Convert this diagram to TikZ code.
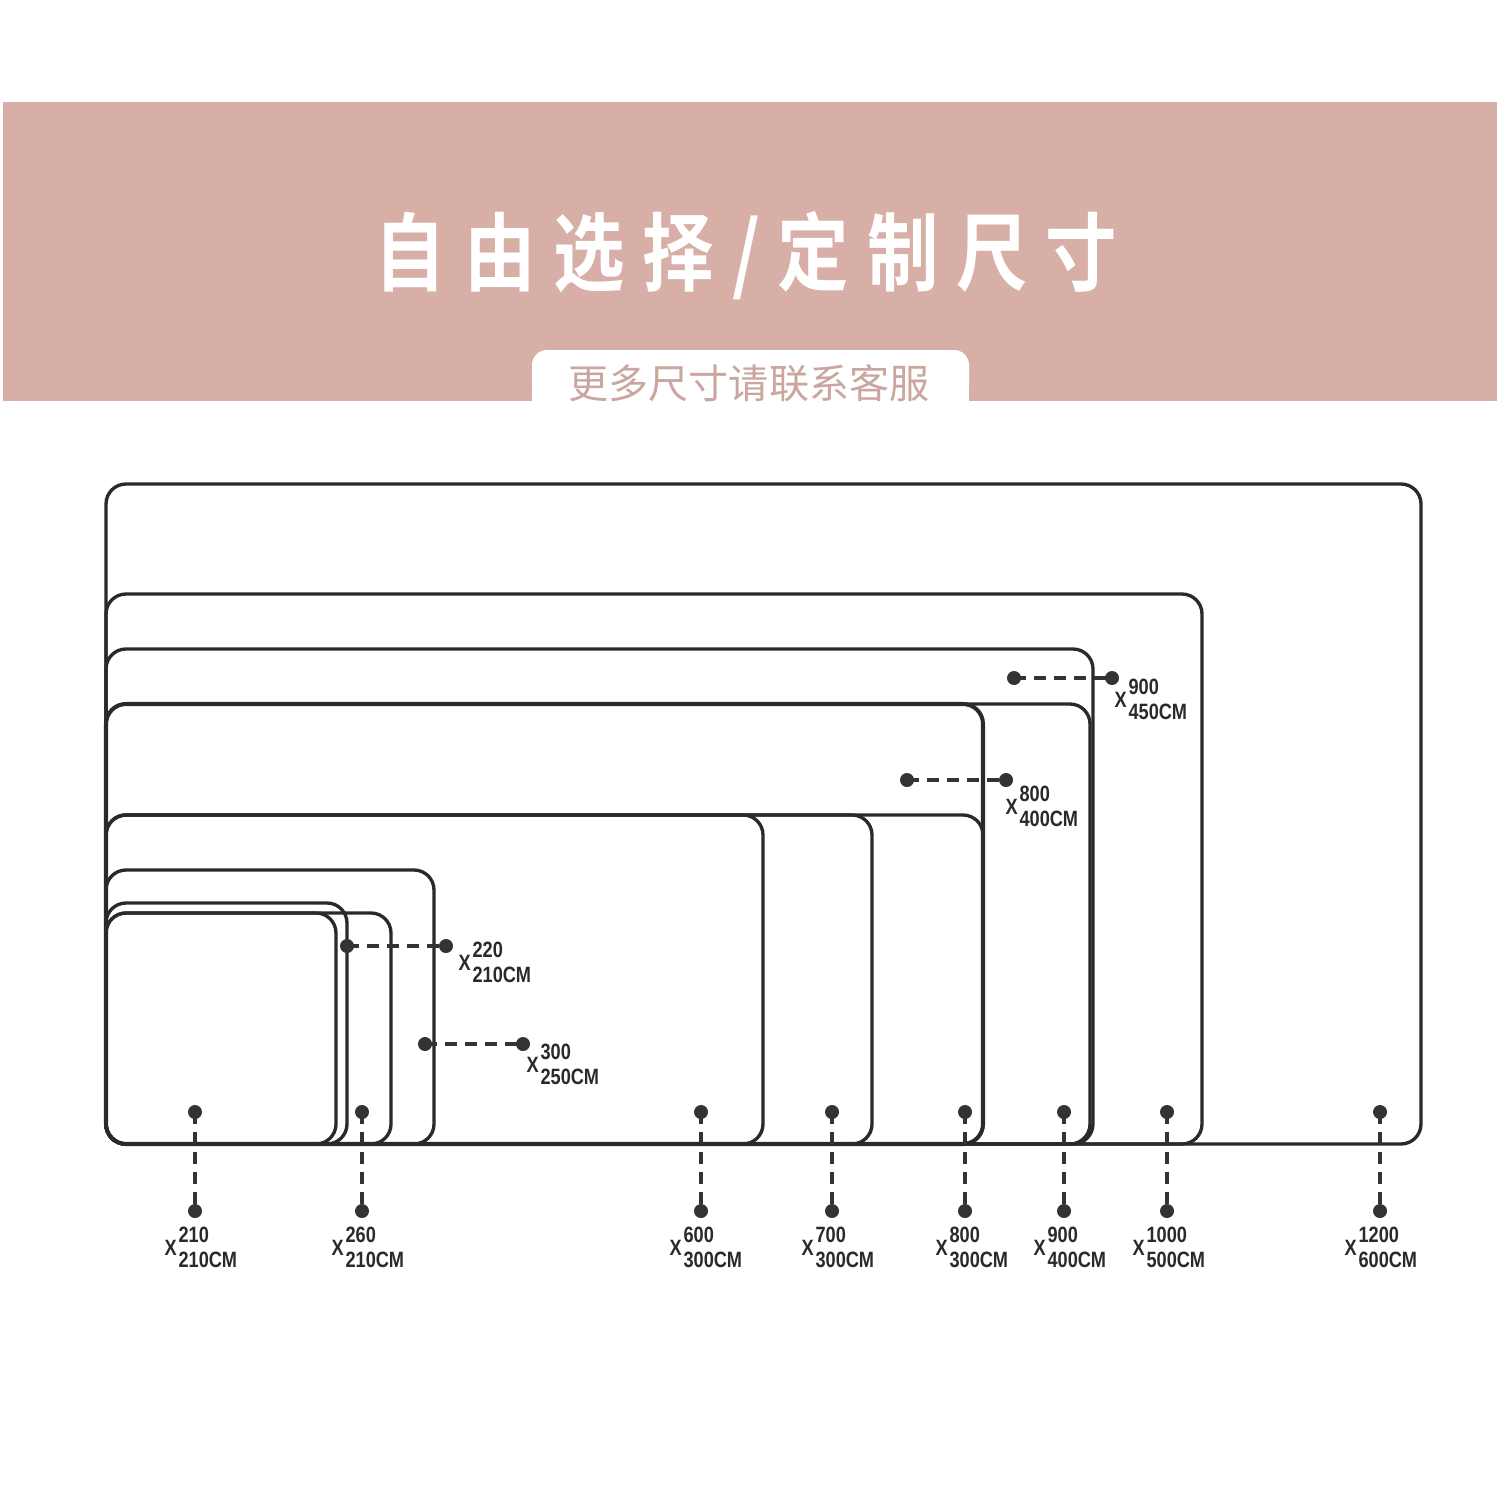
\documentclass[tikz,border=0pt]{standalone}
\usepackage{fontspec}
\setmainfont{Liberation Sans}
\newfontfamily\cjkbold{Noto Sans CJK SC Bold}[LetterSpace=25]
\newfontfamily\cjkreg{Noto Sans CJK SC}
\usepackage{graphicx}
\definecolor{band}{HTML}{D8AFA7}
\definecolor{subtxt}{HTML}{CBA69E}
\definecolor{ink}{HTML}{2A2A2A}
\definecolor{dotc}{HTML}{333333}
\newcommand{\dimlab}[2]{\scalebox{0.82}[1]{X\hspace{0.6pt}\begin{tabular}{@{}l@{}}#1\\#2\end{tabular}}}
\begin{document}
\begin{tikzpicture}[x=0.01cm,y=-0.01cm,
  mat/.style={draw=ink,line width=0.95pt,rounded corners=0.2cm},
  dashln/.style={draw=dotc,line width=1pt,dash pattern=on 3.4pt off 2.3pt},
  lab/.style={inner sep=0pt,anchor=west,text=ink,font=\fontsize{6.3}{7.2}\selectfont\bfseries},
]
\useasboundingbox (0,0) rectangle (1500,1500);
\fill[white] (0,0) rectangle (1500,1500);
% header band
\fill[band] (3,102) rectangle (1497,401);
\fill[white,rounded corners=0.15cm] (532,402) -- (532,350) -- (969,350) -- (969,402) -- cycle;
\fill[white] (532,390) rectangle (969,404);
\node[text=white,inner sep=0pt] (title) at (746,256) {\scalebox{0.84}[1]{\fontsize{24.2}{26}\cjkbold 自由选择/定制尺寸}};
\node[text=subtxt,inner sep=0pt] (sub) at (749,383) {\fontsize{11.4}{13}\cjkreg 更多尺寸请联系客服};
% mats
\draw[mat] (106,1144) rectangle (1421,484);
\draw[mat] (106,1144) rectangle (1202,594);
\draw[mat] (106,1144) rectangle (1093,649);
\draw[mat] (106,1144) rectangle (1090,704);
\draw[mat,line width=1.15pt] (106,1144) rectangle (983,704);
\draw[mat] (106,1144) rectangle (983,815);
\draw[mat] (106,1144) rectangle (872,815);
\draw[mat] (106,1144) rectangle (763,815);
\draw[mat] (106,1144) rectangle (434,870);
\draw[mat] (106,1144) rectangle (391,913);
\draw[mat] (106,1144) rectangle (347,903);
\draw[mat] (106,1144) rectangle (336,913);
% bottom markers
\foreach \n/\xx in {a/195,b/362,c/701,d/832,e/965,f/1064,g/1167,h/1380}{
  \coordinate (t\n) at (\xx,1112);
  \coordinate (b\n) at (\xx,1211);
  \draw[dashln] (t\n) -- (b\n);
  \fill[dotc] (t\n) circle (7);
  \fill[dotc] (b\n) circle (7);
}
% side markers
\foreach \n/\xa/\xb/\yy in {s1/347/446/946, s2/425/523/1044, s3/907/1006/780, s4/1014/1112/678}{
  \coordinate (\n l) at (\xa,\yy);
  \coordinate (\n r) at (\xb,\yy);
  \draw[dashln] (\n l) -- (\n r);
  \fill[dotc] (\n l) circle (7);
  \fill[dotc] (\n r) circle (7);
}
% bottom labels
\node[lab] (la) at (164,1250) {\dimlab{210}{210CM}};
\node[lab] (lb) at (331,1250) {\dimlab{260}{210CM}};
\node[lab] (lc) at (669,1250) {\dimlab{600}{300CM}};
\node[lab] (ld) at (801,1250) {\dimlab{700}{300CM}};
\node[lab] (le) at (935,1250) {\dimlab{800}{300CM}};
\node[lab] (lf) at (1033,1250) {\dimlab{900}{400CM}};
\node[lab] (lg) at (1132,1250) {\dimlab{1000}{500CM}};
\node[lab] (lh) at (1344,1250) {\dimlab{1200}{600CM}};
% side labels
\node[lab] (ls1) at (458,965) {\dimlab{220}{210CM}};
\node[lab] (ls2) at (526,1067) {\dimlab{300}{250CM}};
\node[lab] (ls3) at (1005,809) {\dimlab{800}{400CM}};
\node[lab] (ls4) at (1114,702) {\dimlab{900}{450CM}};
\end{tikzpicture}
\end{document}
